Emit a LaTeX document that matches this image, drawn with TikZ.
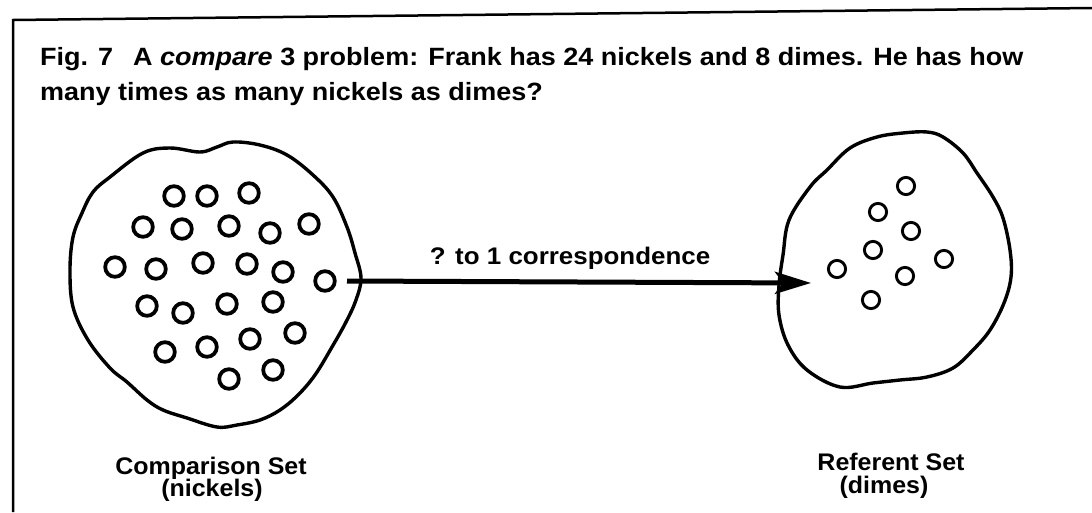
\documentclass[tikz,border=0pt]{standalone}
\usepackage{fontspec}
\setmainfont{Liberation Sans}
\newfontfamily\widesans[FakeStretch=1.08]{Liberation Sans}
\newfontfamily\midsans[FakeStretch=1.04]{Liberation Sans}
\usetikzlibrary{arrows.meta}
\begin{document}
\begin{tikzpicture}[x=1pt,y=-1pt,
  blob/.style={draw=black, line width=3.4pt, line join=round},
  coinL/.style={draw=black, line width=3.8pt},
  coinR/.style={draw=black, line width=2.9pt},
  txt/.style={font=\midsans\bfseries\fontsize{24}{26}\selectfont, inner sep=0pt, anchor=base},
  arrtxt/.style={font=\widesans\bfseries\fontsize{24}{26}\selectfont, inner sep=0pt, anchor=base},
  ttl/.style={font=\widesans\bfseries\fontsize{25}{27}\selectfont, inner sep=0pt, anchor=base west},
  frameline/.style={draw=black, line width=2.5pt},
  corr/.style={line width=5pt, -{Stealth[length=36pt,width=22pt,inset=8pt]}}]
\useasboundingbox (0,0) rectangle (1092,512);
% frame
\coordinate (fbl) at (13,512);
\coordinate (ftl) at (13,20);
\coordinate (ftr) at (1092,8);
\draw[frameline] (fbl) -- (ftl) -- (ftr);
% title
\node[ttl] (title1) at (40,65) {Fig. 7\hspace{0.8em}A \textit{compare} 3 problem: Frank has 24 nickels and 8 dimes. He has how};
\node[ttl] (title2) at (40,100) {many times as many nickels as dimes?};
% left blob
\draw[blob] plot[smooth cycle, tension=0.6] coordinates {
 (233,142) (260,145) (287,155) (313,175) (333,197) (347,227) (355,253) (361,278)
 (356,300) (346,322) (332,347) (315,375) (298,395) (280,410) (260,420) (237,425)
 (217,427) (187,418) (163,410) (147,400) (127,382) (110,368) (88,340) (73,307)
 (70,270) (73,237) (82,213) (93,192) (110,177) (143,153) (170,148) (200,152) (217,147)};
% left coins
\foreach \p in {(174,196),(207,196),(249,193),
  (143,227),(182,229),(229,226),(270,233),(309,224),
  (115,267),(156,269),(203,263),(247,264),(283,272),(325,281),
  (147,306),(183,313),(227,304),(273,302),
  (165,352),(207,347),(250,339),(295,333),
  (229,379),(273,370)}
  \draw[coinL] \p circle[radius=9.8pt];
% right blob
\draw[blob] plot[smooth cycle, tension=0.6] coordinates {
 (903,133) (927,132) (943,137) (963,153) (977,173) (993,197) (1003,218) (1010,250)
 (1011,277) (1004,303) (990,330) (973,350) (953,368) (927,377) (900,380) (873,383)
 (840,387) (807,370) (788,345) (779,315) (779,285) (783,255) (789,220) (810,187)
 (827,170) (850,148) (877,137)};
% right coins
\foreach \p in {(906,186),(878,212),(911,231),(873,250),(837,269),(944,259),(905,276),(871,300)}
  \draw[coinR] \p circle[radius=8.6pt];
% arrow
\coordinate (cmpR) at (347,281);
\coordinate (refL) at (811,283);
\draw[corr] (cmpR) -- (refL);
\node[arrtxt] (corrlabel) at (570,264) {? to 1 correspondence};
% labels
\node[txt] (cmpA) at (211,474) {Comparison Set};
\node[txt] (cmpB) at (212,496) {(nickels)};
\node[txt] (refA) at (891,470) {Referent Set};
\node[txt] (refB) at (884,493) {(dimes)};
\end{tikzpicture}
\end{document}
